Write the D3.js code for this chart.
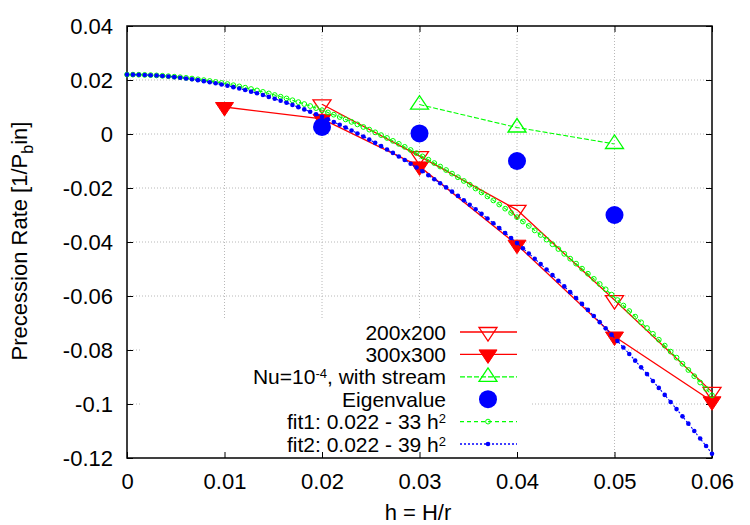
<!DOCTYPE html>
<html><head><meta charset="utf-8">
<script src="https://cdn.jsdelivr.net/npm/d3@7"></script>
<style>body{margin:0;background:#fff}svg{display:block;font-family:"Liberation Sans",Arial,Helvetica,sans-serif}</style>
</head><body>
<svg id="c" width="750" height="525"></svg>
<script>
// ---- data ----
const xTicks = [0, 0.01, 0.02, 0.03, 0.04, 0.05, 0.06];
const xTickLabels = ["0", "0.01", "0.02", "0.03", "0.04", "0.05", "0.06"];
const yTicks = [0.04, 0.02, 0, -0.02, -0.04, -0.06, -0.08, -0.1, -0.12];
const yTickLabels = ["0.04", "0.02", "0", "-0.02", "-0.04", "-0.06", "-0.08", "-0.1", "-0.12"];

const h200 = [0.02, 0.03, 0.04, 0.05, 0.06];
const v200 = [0.0110, -0.0082, -0.0281, -0.0615, -0.0955];
const h300 = [0.01, 0.02, 0.03, 0.04, 0.05, 0.06];
const v300 = [0.0100, 0.0056, -0.0120, -0.0410, -0.0750, -0.0990];
const hNu = [0.03, 0.04, 0.05];
const vNu = [0.0109, 0.0024, -0.0037];
const hEig = [0.02, 0.03, 0.04, 0.05];
const vEig = [0.0026, 0.0002, -0.0100, -0.0300];
// fits shown in the legend: a - b h^2
const fitA = [0.022, 0.022];
const fitB = [33, 39];
const fitSamples = 100;

(function () {
// ---- layout ----
const svg = d3.select("#c");
const L = 127, R = 712, T = 26, B = 458;
const x = d3.scaleLinear().domain([0, 0.06]).range([L, R]);
const y = d3.scaleLinear().domain([-0.12, 0.04]).range([B, T]);
const FS = 22, KFS = 21;

// grid
const grid = svg.append("g").attr("stroke", "#b8b8b8").attr("stroke-width", 1).attr("stroke-dasharray", "1,2");
xTicks.slice(1, -1).forEach(t => grid.append("line").attr("x1", x(t)).attr("x2", x(t)).attr("y1", T).attr("y2", B));
yTicks.slice(1, -1).forEach(t => grid.append("line").attr("x1", L).attr("x2", R).attr("y1", y(t)).attr("y2", y(t)));

// opaque key area
svg.append("rect").attr("x", 140).attr("y", 320).attr("width", 390).attr("height", B - 320).attr("fill", "#fff");

// axes via d3 axis (inward ticks, mirrored)
const gB = svg.append("g").attr("transform", `translate(0,${B})`)
  .call(d3.axisBottom(x).tickValues(xTicks).tickFormat((d, i) => xTickLabels[i]).tickSize(-6).tickPadding(14));
const gT = svg.append("g").attr("transform", `translate(0,${T})`)
  .call(d3.axisTop(x).tickValues(xTicks).tickFormat("").tickSize(-6));
const gL = svg.append("g").attr("transform", `translate(${L},0)`)
  .call(d3.axisLeft(y).tickValues(yTicks).tickFormat((d, i) => yTickLabels[i]).tickSize(-6).tickPadding(14));
const gR = svg.append("g").attr("transform", `translate(${R},0)`)
  .call(d3.axisRight(y).tickValues(yTicks).tickFormat("").tickSize(-6));
[gB, gT, gL, gR].forEach(g => {
  g.selectAll("path").attr("stroke", "none");
  g.selectAll("line").attr("stroke", "#000").attr("stroke-width", 1);
  g.selectAll("text").attr("fill", "#000").attr("font-size", FS).attr("font-family", "Liberation Sans, Arial, sans-serif");
});
gL.selectAll("text").attr("dy", "0.35em");
gB.selectAll("text").attr("dy", "0.75em").attr("y", 14);
svg.append("rect").attr("x", L).attr("y", T).attr("width", R - L).attr("height", B - T)
  .attr("fill", "none").attr("stroke", "#000").attr("stroke-width", 1.5);

// axis titles
svg.append("text").attr("x", 418).attr("y", 520).attr("text-anchor", "middle").attr("font-size", FS).text("h = H/r");
const yl = svg.append("text").attr("transform", "translate(27,241) rotate(-90)").attr("text-anchor", "middle").attr("font-size", FS);
yl.append("tspan").text("Precession Rate [1/P");
yl.append("tspan").attr("font-size", 16).attr("dy", 6).text("b");
yl.append("tspan").attr("dy", -6).text("in]");

// markers
function triDown(cx, cy, s) { return `M${cx - s},${cy - s / 2}L${cx + s},${cy - s / 2}L${cx},${cy + s}Z`; }
function triUp(cx, cy, s) { return `M${cx - s},${cy + s / 2}L${cx + s},${cy + s / 2}L${cx},${cy - s}Z`; }

const line = d3.line().x(d => x(d[0])).y(d => y(d[1]));
const plot = svg.append("g");

function series(hs, vs, color, dash, marker, lw) {
  const pts = hs.map((h, i) => [h, vs[i]]);
  if (dash !== null) plot.append("path").attr("d", line(pts)).attr("fill", "none").attr("stroke", color)
    .attr("stroke-width", lw).attr("stroke-dasharray", dash || null);
  pts.forEach(p => marker(plot, x(p[0]), y(p[1])));
}
const mOpenDown = (g, cx, cy) => g.append("path").attr("d", triDown(cx, cy, 9)).attr("fill", "none").attr("stroke", "#f00").attr("stroke-width", 1.3);
const mFillDown = (g, cx, cy) => g.append("path").attr("d", triDown(cx, cy, 9)).attr("fill", "#f00").attr("stroke", "#f00").attr("stroke-width", 1);
const mOpenUp = (g, cx, cy) => g.append("path").attr("d", triUp(cx, cy, 9)).attr("fill", "none").attr("stroke", "#0f0").attr("stroke-width", 1.3);
const mCircle = (g, cx, cy) => g.append("circle").attr("cx", cx).attr("cy", cy).attr("r", 9).attr("fill", "#00f");
const mSmallOpen = (g, cx, cy) => g.append("circle").attr("cx", cx).attr("cy", cy).attr("r", 2.4).attr("fill", "none").attr("stroke", "#0f0").attr("stroke-width", 1);
const mSmallFill = (g, cx, cy) => g.append("circle").attr("cx", cx).attr("cy", cy).attr("r", 2.3).attr("fill", "#00f");

series(h200, v200, "#f00", "", mOpenDown, 1.3);
series(h300, v300, "#f00", "", mFillDown, 1.3);
series(hNu, vNu, "#0f0", "5,2", mOpenUp, 1.1);
series(hEig, vEig, "#00f", null, mCircle, 1);

const hs = d3.range(fitSamples).map(i => 0.06 * i / (fitSamples - 1));
series(hs, hs.map(h => fitA[0] - fitB[0] * h * h), "#0f0", "4,3", mSmallOpen, 1.1);
series(hs, hs.map(h => fitA[1] - fitB[1] * h * h), "#00f", "2,2", mSmallFill, 1.1);

// legend
const key = svg.append("g").attr("font-size", KFS);
const rows = [
  { lab: ["200x200"], color: "#f00", dash: "", m: mOpenDown, line: true },
  { lab: ["300x300"], color: "#f00", dash: "", m: mFillDown, line: true },
  { lab: ["Nu=10", "-4", ", with stream"], color: "#0f0", dash: "5,2", m: mOpenUp, line: true },
  { lab: ["Eigenvalue"], color: "#00f", dash: null, m: mCircle, line: false },
  { lab: ["fit1: 0.022 - 33 h", "2", ""], color: "#0f0", dash: "4,3", m: mSmallOpen, line: true },
  { lab: ["fit2: 0.022 - 39 h", "2", ""], color: "#00f", dash: "2,2", m: mSmallFill, line: true }
];
rows.forEach((r, i) => {
  const cy = 332 + i * 22.4;
  const t = key.append("text").attr("x", 446).attr("y", cy + 7.5).attr("text-anchor", "end");
  t.append("tspan").text(r.lab[0]);
  if (r.lab.length > 1) {
    t.append("tspan").attr("font-size", 13).attr("dy", -6).text(r.lab[1]);
    if (r.lab[2]) t.append("tspan").attr("dy", 6).text(r.lab[2]);
  }
  if (r.line) key.append("line").attr("x1", 460).attr("x2", 517).attr("y1", cy).attr("y2", cy)
    .attr("stroke", r.color).attr("stroke-width", 1.3).attr("stroke-dasharray", r.dash || null);
  r.m(key, 488, cy);
});
})();
</script>
</body></html>
